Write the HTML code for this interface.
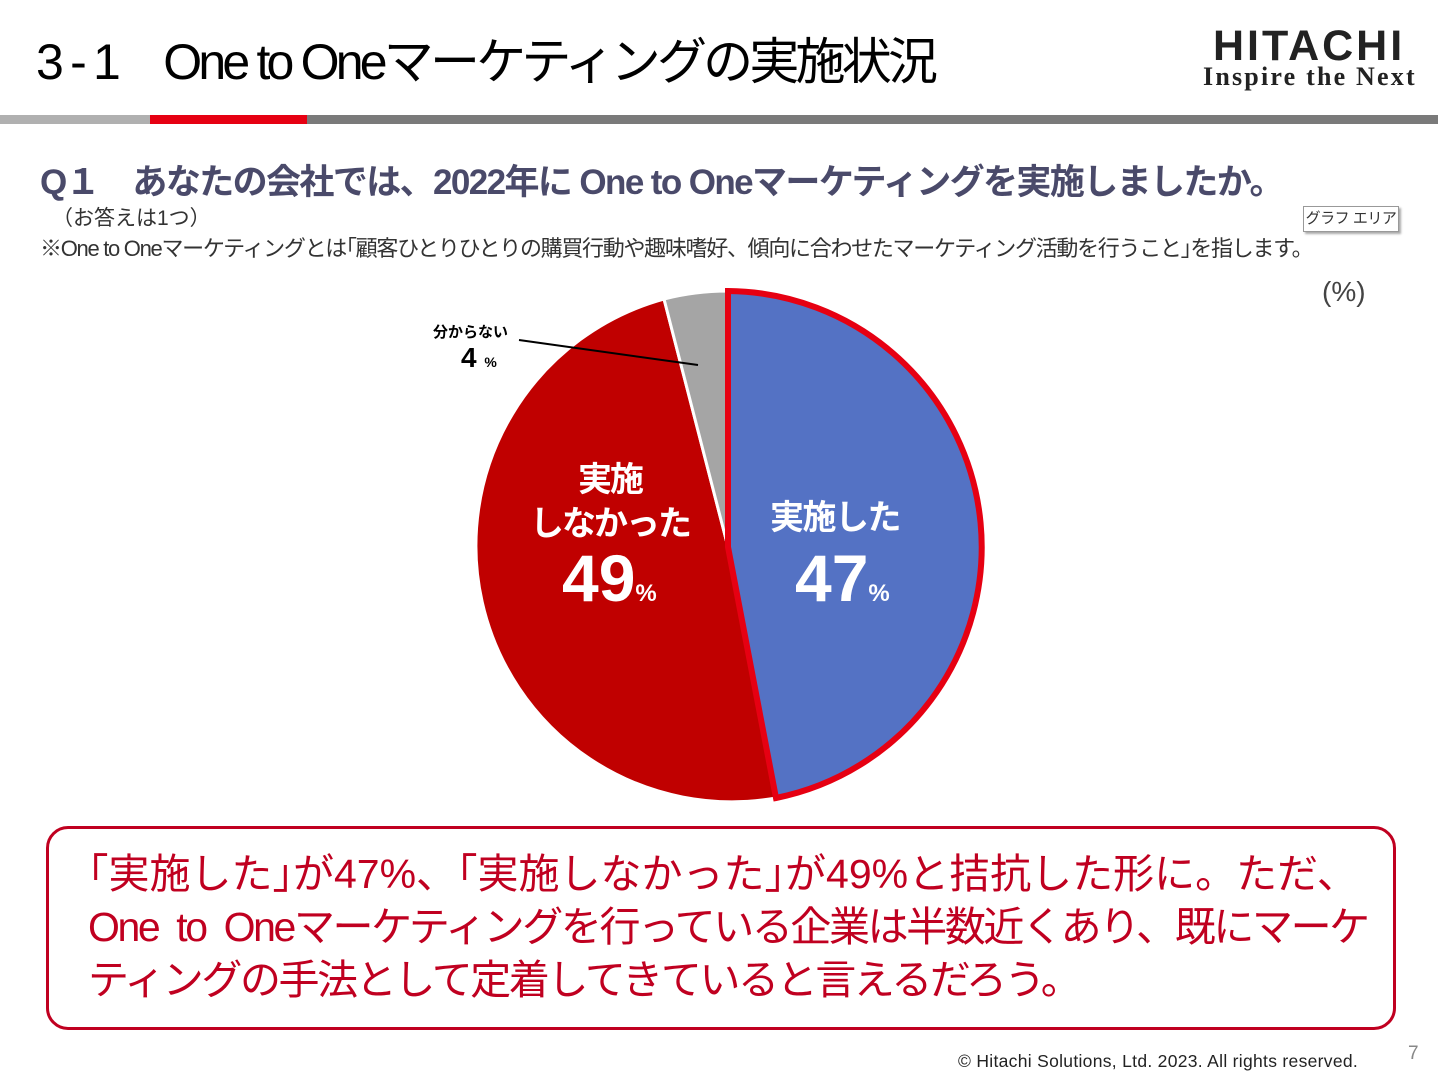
<!DOCTYPE html>
<html><head><meta charset="utf-8"><style>
body{margin:0;width:1438px;height:1083px;background:#fff;position:relative;overflow:hidden;font-family:"Liberation Sans","Noto Sans CJK JP",sans-serif}
.a{position:absolute;white-space:nowrap}
</style></head><body>
<div class="a" style="left:36px;top:22px;font-size:50px;color:#000;letter-spacing:-3.8px">3 - 1　One to Oneマーケティングの実施状況</div>
<div class="a" style="left:1213px;top:22px;font-size:43px;font-weight:bold;color:#222;letter-spacing:3px">HITACHI</div>
<div class="a" style="left:1203px;top:62px;font-size:26px;font-family:'Liberation Serif',serif;color:#222;font-weight:bold;letter-spacing:2.2px">Inspire the Next</div>
<div class="a" style="left:0;top:115px;width:150px;height:9px;background:#b0b0b0"></div>
<div class="a" style="left:150px;top:115px;width:157px;height:9px;background:#e60012"></div>
<div class="a" style="left:307px;top:115px;width:1131px;height:9px;background:#7a7a7a"></div>
<div class="a" style="left:40px;top:154px;font-size:35px;font-weight:bold;color:#4a4a6a;letter-spacing:-1.6px">Q１　あなたの会社では、2022年に One to Oneマーケティングを実施しましたか。</div>
<div class="a" style="left:52px;top:202px;font-size:21px;color:#333">（お答えは1つ）</div>
<div class="a" style="left:40px;top:231px;font-size:22px;color:#333;letter-spacing:-1.3px">※One to Oneマーケティングとは｢顧客ひとりひとりの購買行動や趣味嗜好、傾向に合わせたマーケティング活動を行うこと｣を指します。</div>
<div class="a" style="left:1303px;top:206px;width:94px;height:24px;border:1px solid #999;box-shadow:2px 2px 2px #aaa;background:#fff;font-size:15px;color:#333;text-align:center;line-height:24px;letter-spacing:-0.5px">グラフ エリア</div>
<div class="a" style="left:1322px;top:276px;font-size:28px;color:#444">(%)</div>
<svg class="a" style="left:0;top:0" width="1438" height="1083">
<path d="M728,547 L776,798 A256,256 0 0 1 664,299 Z" fill="#c00000" stroke="#fff" stroke-width="3"/>
<path d="M728,547 L664,299 A256,256 0 0 1 728,291 Z" fill="#a5a5a5" stroke="#fff" stroke-width="3"/>
<path d="M728,547 L728,291 A256,256 0 0 1 776,798 Z" fill="#5472c4" stroke="#e60012" stroke-width="6"/>
<line x1="519" y1="340" x2="698" y2="365" stroke="#000" stroke-width="2"/>
</svg>
<div class="a" style="left:433px;top:321px;font-size:15px;font-weight:bold">分からない</div>
<div class="a" style="left:461px;top:342px;font-size:28px;font-weight:bold">4 <span style="font-size:14px">%</span></div>
<div class="a" style="left:530px;top:458px;width:160px;text-align:center;font-size:34px;font-weight:bold;color:#fff;line-height:44px;letter-spacing:-2px">実施<br>しなかった</div>
<div class="a" style="left:562px;top:540px;font-size:66px;font-weight:bold;color:#fff">49<span style="font-size:24px">%</span></div>
<div class="a" style="left:770px;top:490px;font-size:34px;font-weight:bold;color:#fff;letter-spacing:-1.5px">実施した</div>
<div class="a" style="left:795px;top:540px;font-size:66px;font-weight:bold;color:#fff">47<span style="font-size:24px">%</span></div>
<div class="a" style="left:46px;top:826px;width:1344px;height:198px;border:3px solid #c00020;border-radius:22px"></div>
<div class="a" style="left:88px;top:848px;font-size:41px;color:#c00020;line-height:53px">
<div>｢実施した｣が47%、｢実施しなかった｣が49%と拮抗した形に。ただ、</div>
<div style="letter-spacing:-2.4px">One&nbsp; to&nbsp; Oneマーケティングを行っている企業は半数近くあり、既にマーケ</div>
<div style="letter-spacing:-2.4px">ティングの手法として定着してきていると言えるだろう。</div>
</div>
<div class="a" style="left:958px;top:1051px;font-size:17.5px;color:#222;letter-spacing:0.3px">© Hitachi Solutions, Ltd. 2023. All rights reserved.</div>
<div class="a" style="left:1408px;top:1043px;font-size:19px;color:#888">7</div>
</body></html>
